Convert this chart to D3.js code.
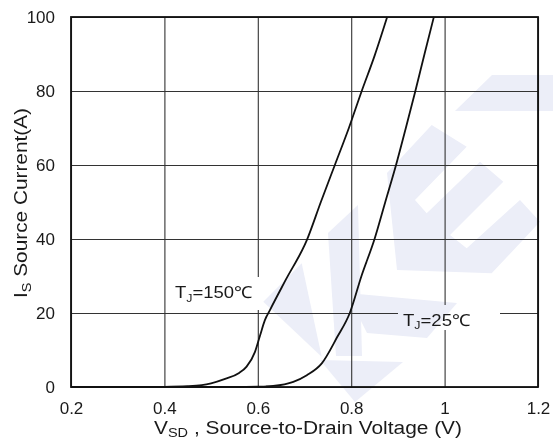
<!DOCTYPE html>
<html>
<head>
<meta charset="utf-8">
<script src="https://cdn.jsdelivr.net/npm/d3@7"></script>
<style>
  html, body { margin: 0; padding: 0; background: #fff; }
  svg { display: block; }
  text { font-family: "Liberation Sans", Arial, sans-serif; fill: #1a1a1a; }
</style>
</head>
<body>
<svg id="chart" width="553" height="439"></svg>
<script>
// Forward diode characteristic: source current vs source-to-drain voltage
const xTicks = [0.2, 0.4, 0.6, 0.8, 1.0, 1.2];
const xTickLabels = ["0.2", "0.4", "0.6", "0.8", "1", "1.2"];
const yTicks = [0, 20, 40, 60, 80, 100];
const yTickLabels = ["0", "20", "40", "60", "80", "100"];

// Tj = 150 °C
const vsd150 = [0.20, 0.30, 0.40, 0.45, 0.48, 0.50, 0.53, 0.56, 0.576, 0.594, 0.605, 0.615, 0.626, 0.66, 0.705, 0.735, 0.765, 0.795, 0.822, 0.85, 0.877];
const is150  = [0,    0,    0.05, 0.2,  0.5,  1.0,  2.2,  3.8,  5.5,   9.5,   14,    18,    20.8,  29,   39.7,  50,    60,    70,    79.8,  89.5, 100];

// Tj = 25 °C
const vsd25 = [0.20, 0.40, 0.55, 0.60, 0.633, 0.676, 0.705, 0.737, 0.77, 0.797, 0.822, 0.85, 0.873, 0.896, 0.917, 0.937, 0.957, 0.977];
const is25  = [0,    0,    0,    0.1,  0.3,   1.4,   3.2,   6.4,   13.5, 20,    30,    40,   50,    60,    70,    79.8,  90,    100];

const seriesLabels = [
  { sub: "J", rest: "=150\u2103", v: 0.2 + 104 / 467, i: 24 },
  { sub: "J", rest: "=25\u2103",  v: 0.2 + 332 / 467, i: 16.5 }
];

// Background logo watermark (pixel outlines)
const logoShapes = [
  [[455,111],[492,75],[553,75],[553,111]],
  [[387,173],[431.7,125],[466.7,146.7],[415,200],[426.7,213.3],[480,161.7],[503.3,181.7],[450,235],[466.7,248.3],[520,200],[540,221.7],[491.7,273.3],[397,270]],
  [[328,233],[358,205],[362,356],[336,356]],
  [[301.7,263.3],[263.3,301.7],[321.7,356.7]],
  [[320,360],[403,362],[355,402]],
  [[347,293],[457,303],[427,338],[367,333]]
];

const margin = { left: 71, right: 15, top: 17, bottom: 52 };
const W = 553, H = 439;
const iw = W - margin.left - margin.right;   // 467
const ih = H - margin.top - margin.bottom;   // 370

const svg = d3.select("#chart");
svg.append("rect").attr("width", W).attr("height", H).attr("fill", "#fff");

// watermark
svg.append("g").selectAll("polygon").data(logoShapes).join("polygon")
  .attr("points", d => d.map(p => p.join(",")).join(" "))
  .attr("fill", "#eceef8");

const x = d3.scaleLinear().domain([0.2, 1.2]).range([0, iw]);
const y = d3.scaleLinear().domain([0, 100]).range([ih, 0]);

const g = svg.append("g").attr("transform", `translate(${margin.left},${margin.top})`);

// mask to keep gridlines clear behind the series labels
const defs = svg.append("defs");
const mask = defs.append("mask").attr("id", "gridMask").attr("maskUnits", "userSpaceOnUse")
  .attr("x", -margin.left).attr("y", -margin.top).attr("width", W).attr("height", H);
mask.append("rect").attr("x", -margin.left).attr("y", -margin.top).attr("width", W).attr("height", H).attr("fill", "#fff");
mask.append("rect").attr("x", 168 - margin.left).attr("y", 277 - margin.top).attr("width", 92).attr("height", 33).attr("fill", "#000");
mask.append("rect").attr("x", 398 - margin.left).attr("y", 305 - margin.top).attr("width", 102).attr("height", 25).attr("fill", "#000");

const grid = g.append("g").attr("mask", "url(#gridMask)");
grid.append("g")
  .call(d3.axisBottom(x).tickValues(xTicks).tickSize(ih).tickFormat(""))
  .call(s => s.select(".domain").remove())
  .call(s => s.selectAll("line").attr("stroke", "#333").attr("stroke-width", 1.1));
grid.append("g")
  .call(d3.axisLeft(y).tickValues(yTicks).tickSize(-iw).tickFormat(""))
  .call(s => s.select(".domain").remove())
  .call(s => s.selectAll("line").attr("stroke", "#333").attr("stroke-width", 1.1));

// tick labels
const xAxis = g.append("g").attr("transform", `translate(0,${ih})`)
  .call(d3.axisBottom(x).tickValues(xTicks).tickSize(0).tickPadding(15)
    .tickFormat((d, i) => xTickLabels[i]));
xAxis.select(".domain").remove();
xAxis.selectAll("text").attr("font-size", 17).attr("font-family", null).attr("fill", "#1a1a1a");

const yAxis = g.append("g")
  .call(d3.axisLeft(y).tickValues(yTicks).tickSize(0).tickPadding(16)
    .tickFormat((d, i) => yTickLabels[i]));
yAxis.select(".domain").remove();
yAxis.selectAll("text").attr("font-size", 17).attr("font-family", null).attr("fill", "#1a1a1a");

// frame
g.append("rect").attr("width", iw).attr("height", ih)
  .attr("fill", "none").attr("stroke", "#111").attr("stroke-width", 1.8);

// curves
const line = d3.line().x(d => x(d[0])).y(d => y(d[1])).curve(d3.curveMonotoneX);
const curves = [d3.zip(vsd150, is150), d3.zip(vsd25, is25)];
g.append("g").selectAll("path").data(curves).join("path")
  .attr("d", line)
  .attr("fill", "none").attr("stroke", "#111").attr("stroke-width", 1.8)
  .attr("stroke-linejoin", "round");

// series labels
const lengths = [77, 67];
seriesLabels.forEach((d, k) => {
  const t = g.append("text")
    .attr("x", x(d.v)).attr("y", y(d.i))
    .attr("font-size", 16.5)
    .attr("textLength", lengths[k]).attr("lengthAdjust", "spacingAndGlyphs");
  t.append("tspan").text("T");
  t.append("tspan").attr("font-size", 11).attr("dy", 3.5).text(d.sub);
  t.append("tspan").attr("dy", -3.5).text(d.rest);
});

// axis titles
const xt = svg.append("text")
  .attr("x", 308).attr("y", 434).attr("text-anchor", "middle")
  .attr("font-size", 18)
  .attr("textLength", 308).attr("lengthAdjust", "spacingAndGlyphs");
xt.append("tspan").text("V");
xt.append("tspan").attr("font-size", 12.5).attr("dy", 3).text("SD");
xt.append("tspan").attr("dy", -3).text(" , Source-to-Drain Voltage (V)");

const yt = svg.append("text")
  .attr("transform", "translate(27,203) rotate(-90)")
  .attr("text-anchor", "middle")
  .attr("font-size", 18)
  .attr("textLength", 190).attr("lengthAdjust", "spacingAndGlyphs");
yt.append("tspan").text("I");
yt.append("tspan").attr("font-size", 12.5).attr("dy", 4).text("S");
yt.append("tspan").attr("dy", -4).text(" Source Current(A)");
</script>
</body>
</html>
